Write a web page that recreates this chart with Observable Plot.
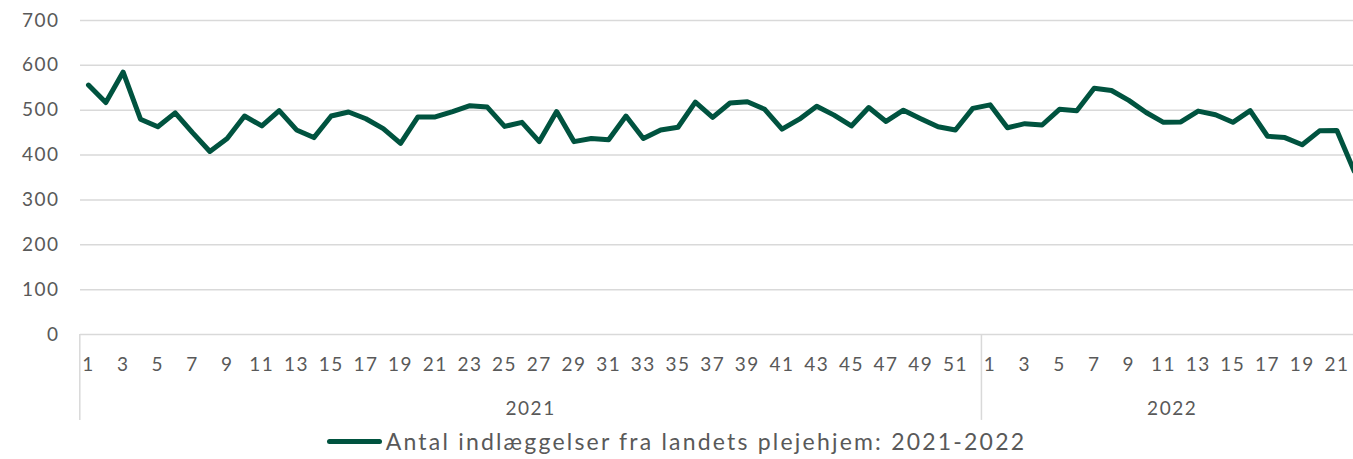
<!DOCTYPE html>
<html>
<head>
<meta charset="utf-8">
<script src="https://cdn.jsdelivr.net/npm/d3@7"></script>
<script src="https://cdn.jsdelivr.net/npm/@observablehq/plot@0.6"></script>
<style>
  html, body { margin: 0; padding: 0; background: #fff; overflow: hidden; }
  #legend { display: flex; justify-content: center; align-items: center; height: 26px; font-family: Lato, sans-serif; font-size: 23px; color: #595959; letter-spacing: 2.2px; }
  #legend .sw { display: inline-block; width: 55px; height: 5px; background: #00533f; border-radius: 3px; margin-right: 4px; }
  #chart svg text { letter-spacing: 1.5px; }
</style>
</head>
<body>
<div id="chart"></div>
<div id="legend"><span class="sw"></span><span>Antal indlæggelser fra landets plejehjem: 2021-2022</span></div>
<script>
const years = ["2021", "2022"];
const values2021 = [556,517,585,480,463,494,450,408,437,487,465,499,456,439,487,496,481,459,426,485,485,497,510,507,464,473,430,497,430,437,434,487,437,456,462,518,484,516,519,502,458,480,509,489,465,506,475,500,481,463,456,504];
const values2022 = [512,461,470,467,502,499,549,544,522,495,473,474,498,490,473,499,442,439,423,454,455,364];
const yTicks = [0,100,200,300,400,500,600,700];
const seriesName = "Antal indlæggelser fra landets plejehjem: 2021-2022";

const rows = [
  ...values2021.map((v, k) => ({i: k, year: years[0], week: k + 1, v})),
  ...values2022.map((v, k) => ({i: values2021.length + k, year: years[1], week: k + 1, v}))
];
const n = rows.length;
const xTicks = rows.filter(d => d.week % 2 === 1).map(d => d.i);
const yearStarts = [0, values2021.length];
const yearCenters = [
  {i: Math.floor(values2021.length / 2) - 1, label: years[0]},
  {i: values2021.length + Math.floor(values2022.length / 2) - 1, label: years[1]}
];

const x0 = 79.3, x1 = 1362.4;
const half = (x1 - x0) / n / 2;
const grey = "#595959";
const gridC = "#d9d9d9";
const font = "Lato, sans-serif";

const chart = Plot.plot({
  width: 1353,
  height: 428,
  marginTop: 20,
  marginBottom: 94,
  marginLeft: 80,
  marginRight: 0,
  style: {fontFamily: font, color: grey, background: "#fff"},
  x: {type: "point", domain: d3.range(n), range: [x0, x1], padding: 0.5, round: false},
  y: {domain: [0, 700]},
  marks: [
    Plot.gridY(yTicks, {stroke: gridC, strokeOpacity: 1, strokeWidth: 1.5}),
    Plot.ruleX(yearStarts, {x: d => d, dx: -half, y1: 0, y2: -191.5, stroke: gridC, strokeWidth: 1.5}),
    Plot.axisY(yTicks, {tickSize: 0, tickPadding: 21, fontSize: 19, fill: grey, label: null}),
    Plot.axisX(xTicks, {tickSize: 0, tickPadding: 23, fontSize: 19, fill: grey, label: null, tickFormat: i => String(rows[i].week)}),
    Plot.text(yearCenters, {x: "i", dx: half, frameAnchor: "bottom", dy: 80, text: "label", fontSize: 19, fill: grey}),
    Plot.line(rows, {x: "i", y: "v", stroke: "#00533f", strokeWidth: 5, strokeLinejoin: "round", strokeLinecap: "round"})
  ]
});
document.getElementById("chart").appendChild(chart);
</script>
</body>
</html>
